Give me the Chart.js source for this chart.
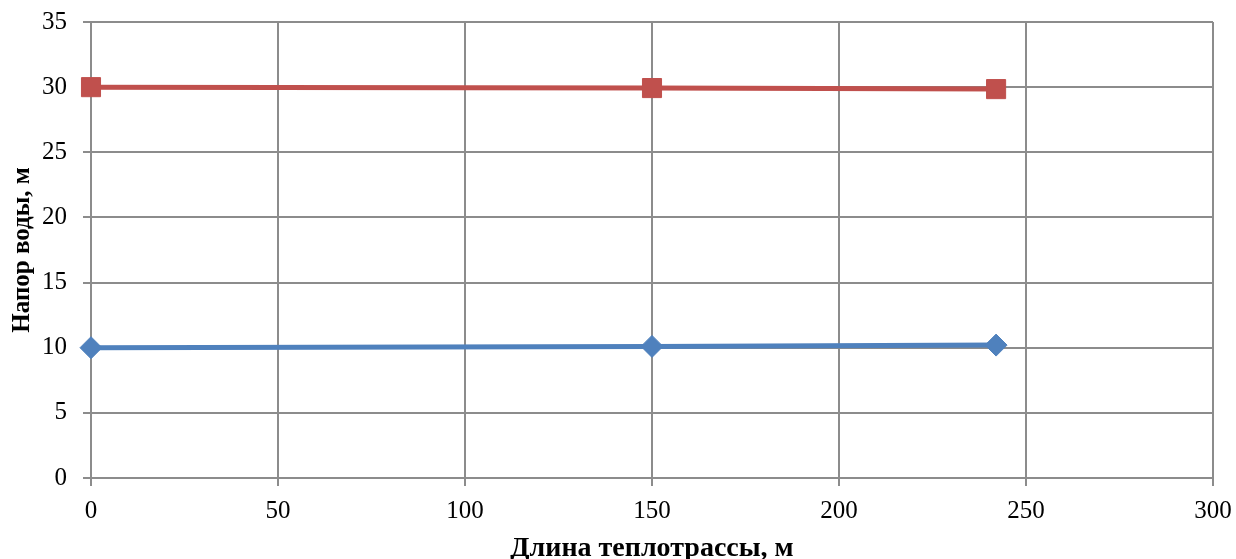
<!DOCTYPE html>
<html>
<head>
<meta charset="utf-8">
<script src="https://cdn.jsdelivr.net/npm/chart.js@4/dist/chart.umd.min.js"></script>
<style>
  body { margin: 0; background: #fff; }
  #wrap { width: 1236px; height: 559px; }
</style>
</head>
<body>
<div id="wrap"><canvas id="headChart"></canvas></div>
<script>
// длина теплотрассы, м
const lengths = [0, 150, 242];
// напор в подающем трубопроводе, м
const supplyHead = [30, 29.93, 29.85];
// напор в обратном трубопроводе, м
const returnHead = [10, 10.1, 10.2];

const toPoints = (xs, ys) => xs.map((x, i) => ({ x: x, y: ys[i] }));

const gridColor = '#8c8c8c';
const tickFont = { family: 'Liberation Serif', size: 25 };

const ctx = document.getElementById('headChart').getContext('2d');
new Chart(ctx, {
  type: 'line',
  data: {
    datasets: [{
      label: 'Обратный',
      data: toPoints(lengths, returnHead),
      borderColor: '#4F81BD',
      backgroundColor: '#4F81BD',
      borderWidth: 5,
      pointStyle: 'rectRot',
      pointRadius: 11,
      pointHoverRadius: 11,
      pointBorderWidth: 1,
      clip: false,
      tension: 0
    }, {
      label: 'Подающий',
      data: toPoints(lengths, supplyHead),
      borderColor: '#C0504D',
      backgroundColor: '#C0504D',
      borderWidth: 5,
      pointStyle: 'rect',
      pointRadius: 13.5,
      pointHoverRadius: 13.5,
      pointBorderWidth: 1,
      clip: false,
      tension: 0
    }]
  },
  options: {
    responsive: true,
    maintainAspectRatio: false,
    animation: false,
    layout: { autoPadding: false, padding: { top: 22, right: 23, left: 0, bottom: 0 } },
    plugins: {
      legend: { display: false },
      tooltip: { enabled: false }
    },
    scales: {
      x: {
        type: 'linear',
        min: 0,
        max: 300,
        ticks: { stepSize: 50, color: '#000', font: tickFont, padding: 10, maxRotation: 0 },
        grid: { color: gridColor, lineWidth: 2, tickLength: 8, tickColor: gridColor },
        border: { color: gridColor, width: 2 },
        title: {
          display: true,
          text: 'Длина теплотрассы, м',
          color: '#000',
          font: { family: 'Liberation Serif', size: 28, weight: 'bold', lineHeight: 1 },
          padding: { top: 0, bottom: -4 }
        },
        afterFit: s => {
          s.height = 81;
          s.paddingLeft = 0;
          s.paddingRight = 0;
        }
      },
      y: {
        min: 0,
        max: 35,
        ticks: { stepSize: 5, color: '#000', font: tickFont, padding: 16 },
        grid: { color: gridColor, lineWidth: 2, tickLength: 8, tickColor: gridColor },
        border: { color: gridColor, width: 2 },
        title: {
          display: true,
          text: 'Напор воды, м',
          color: '#000',
          font: { family: 'Liberation Serif', size: 25, weight: 'bold', lineHeight: 1.2 },
          padding: { top: 8, bottom: 0 }
        },
        afterFit: s => {
          s.width = 91;
          s.paddingTop = 0;
          s.paddingBottom = 0;
        }
      }
    }
  }
});
</script>
</body>
</html>
